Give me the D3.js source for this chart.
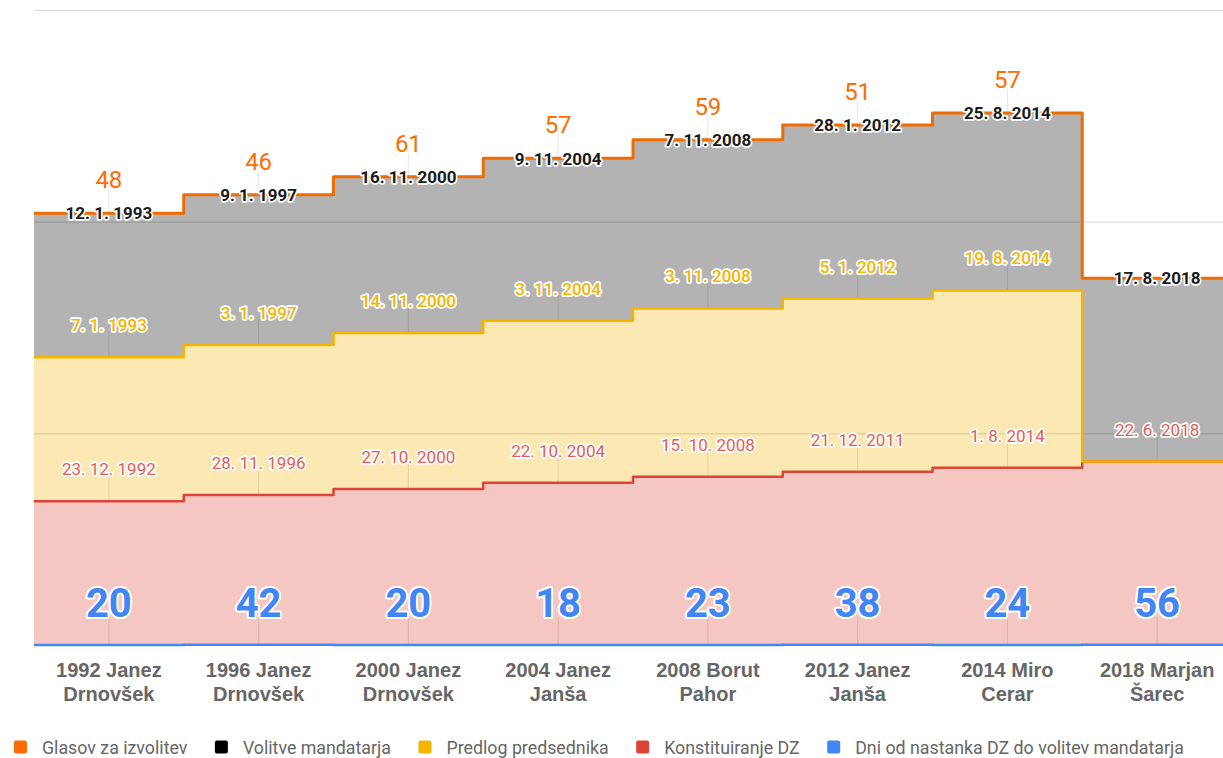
<!DOCTYPE html>
<html>
<head>
<meta charset="utf-8">
<script src="https://cdnjs.cloudflare.com/ajax/libs/d3/7.8.5/d3.min.js"></script>
<style>
  body { margin: 0; background: #fff; }
  svg { display: block; font-family: Roboto, "Noto Sans", sans-serif; }
  .halo { paint-order: stroke; stroke: #fff; stroke-linejoin: round; }
</style>
</head>
<body>
<svg id="chart" width="1223" height="758"></svg>
<script>
// categories (x axis, two lines each)
const categories = [
  ["1992 Janez", "Drnovšek"], ["1996 Janez", "Drnovšek"], ["2000 Janez", "Drnovšek"],
  ["2004 Janez", "Janša"], ["2008 Borut", "Pahor"], ["2012 Janez", "Janša"],
  ["2014 Miro", "Cerar"], ["2018 Marjan", "Šarec"]
];
// series (dates are stacked as spreadsheet serial numbers)
const konstituiranje = ["23. 12. 1992", "28. 11. 1996", "27. 10. 2000", "22. 10. 2004",
  "15. 10. 2008", "21. 12. 2011", "1. 8. 2014", "22. 6. 2018"];
const predlog = ["7. 1. 1993", "3. 1. 1997", "14. 11. 2000", "3. 11. 2004",
  "3. 11. 2008", "5. 1. 2012", "19. 8. 2014", null];
const volitve = ["12. 1. 1993", "9. 1. 1997", "16. 11. 2000", "9. 11. 2004",
  "7. 11. 2008", "28. 1. 2012", "25. 8. 2014", "17. 8. 2018"];
const glasov = [48, 46, 61, 57, 59, 51, 57, null];
const dni = [20, 42, 20, 18, 23, 38, 24, 56];
const yTicks = [0, 50000, 100000, 150000];

const legendItems = [
  { name: "Glasov za izvolitev", color: "#ff6d01" },
  { name: "Volitve mandatarja", color: "#000000" },
  { name: "Predlog predsednika", color: "#f4b400" },
  { name: "Konstituiranje DZ", color: "#db4437" },
  { name: "Dni od nastanka DZ do volitev mandatarja", color: "#4285f4" }
];

function serial(s) {
  if (!s) return 0;
  const [d, m, yr] = s.split(".").map(v => +v.trim());
  return (Date.UTC(yr, m - 1, d) - Date.UTC(1899, 11, 30)) / 86400000;
}

const svg = d3.select("#chart");
const plotLeft = 34, step = 149.75, plotTop = 10, plotBottom = 645;

const x = d3.scaleBand().domain(d3.range(categories.length))
  .range([plotLeft, plotLeft + step * categories.length]).padding(0);
const y = d3.scaleLinear().domain([0, 150000]).range([plotBottom, plotTop]);

// stacked levels
const rows = categories.map((c, i) => {
  const blue = dni[i];
  const red = blue + serial(konstituiranje[i]);
  const yellow = red + serial(predlog[i]);
  const gray = yellow + serial(volitve[i]);
  const orange = gray + (glasov[i] || 0);
  return { i, base: 0, blue, red, yellow, gray, orange };
});

// step points: every category spans its whole band
function stepPoints(key0, key1) {
  const pts = [];
  rows.forEach(r => {
    pts.push({ x: x(r.i), y0: r[key0], y1: r[key1] });
    pts.push({ x: x(r.i) + x.bandwidth(), y0: r[key0], y1: r[key1] });
  });
  return pts;
}

const area = d3.area().x(d => d.x).y0(d => y(d.y0)).y1(d => y(d.y1));
const line = d3.line().x(d => d.x).y(d => y(d.y1)).curve(d3.curveLinear);

const g = svg.append("g");

// areas
[["base", "red", "#f4c7c3"], ["red", "yellow", "#fce8b2"], ["yellow", "gray", "#b3b3b3"]]
  .forEach(([k0, k1, fill]) => {
    g.append("path").datum(stepPoints(k0, k1)).attr("d", area).attr("fill", fill);
  });

// gridlines
const grid = g.append("g")
  .attr("transform", `translate(${plotLeft},0)`)
  .call(d3.axisLeft(y).tickValues(yTicks.slice(1)).tickSize(-(1223 - plotLeft)).tickFormat(""));
grid.select(".domain").remove();
grid.selectAll(".tick line").attr("stroke", "#000").attr("stroke-opacity", 0.15);

// annotation stems
const stemColor = "rgba(0,0,0,0.1)";
function stems(key, len, filter) {
  g.append("g").selectAll("line").data(rows.filter(filter)).join("line")
    .attr("x1", r => x(r.i) + x.bandwidth() / 2).attr("x2", r => x(r.i) + x.bandwidth() / 2)
    .attr("y1", r => y(r[key])).attr("y2", r => y(r[key]) - len)
    .attr("stroke", stemColor).attr("stroke-width", 1);
}
stems("orange", 24, r => glasov[r.i] != null);
stems("yellow", 26, r => predlog[r.i] != null);
stems("red", 26, () => true);
stems("blue", 28, () => true);

// lines
[["red", "#db4437", 2.5], ["yellow", "#f4b400", 2.5], ["orange", "#ef6c00", 3]]
  .forEach(([k, color, w]) => {
    g.append("path").datum(stepPoints("base", k)).attr("d", line)
      .attr("fill", "none").attr("stroke", color).attr("stroke-width", w)
      .attr("stroke-linejoin", "round");
  });
// blue series line on the baseline
g.append("path").datum(stepPoints("base", "blue")).attr("d", line)
  .attr("fill", "none").attr("stroke", "#4285f4").attr("stroke-width", 2.5);

// annotations
const cx = r => x(r.i) + x.bandwidth() / 2;
function labels(data, yFn, text, color, size, weight, halo) {
  g.append("g").selectAll("text").data(data).join("text")
    .attr("class", "halo")
    .attr("x", cx).attr("y", yFn)
    .attr("text-anchor", "middle")
    .attr("font-size", size).attr("font-weight", weight)
    .attr("fill", color).attr("stroke-width", halo)
    .text(text);
}
labels(rows.filter(r => glasov[r.i] != null), r => y(r.orange) - 25,
  r => glasov[r.i], "#ff6d01", 24, 400, 0);
labels(rows, r => y(r.gray) + 6, r => volitve[r.i], "#1a1a1a", 17, 700, 3.5);
labels(rows.filter(r => predlog[r.i] != null), r => y(r.yellow) - 26,
  r => predlog[r.i], "#f4b400", 17, 500, 3.5);
labels(rows, r => y(r.red) - 26, r => konstituiranje[r.i], "#e06055", 17, 400, 3.5);
labels(rows, r => y(r.blue) - 28, r => dni[r.i], "#4285f4", 40, 700, 4);

// x axis
const xAxis = svg.append("g").attr("transform", `translate(0,${plotBottom})`)
  .call(d3.axisBottom(x).tickSize(0).tickFormat(""));
xAxis.select(".domain").remove();
xAxis.selectAll(".tick text").remove();
xAxis.selectAll(".tick").append("text")
  .attr("text-anchor", "middle").attr("fill", "#666")
  .attr("font-size", 20).attr("font-weight", 700)
  .selectAll("tspan").data(i => categories[i]).join("tspan")
  .attr("x", 0).attr("y", (d, j) => 32 + j * 23.5).text(d => d);

// legend
const legend = svg.append("g").attr("transform", "translate(14,747)");
let lx = 0;
legendItems.forEach(item => {
  const it = legend.append("g").attr("transform", `translate(${lx},0)`);
  it.append("rect").attr("x", 0).attr("y", -6.5).attr("width", 13).attr("height", 13)
    .attr("rx", 2).attr("fill", item.color);
  const t = it.append("text").attr("x", 28).attr("y", 6.5)
    .attr("font-size", 17.8).attr("fill", "#666").text(item.name);
  lx += 28 + t.node().getComputedTextLength() + 27.5;
});
</script>
</body>
</html>
